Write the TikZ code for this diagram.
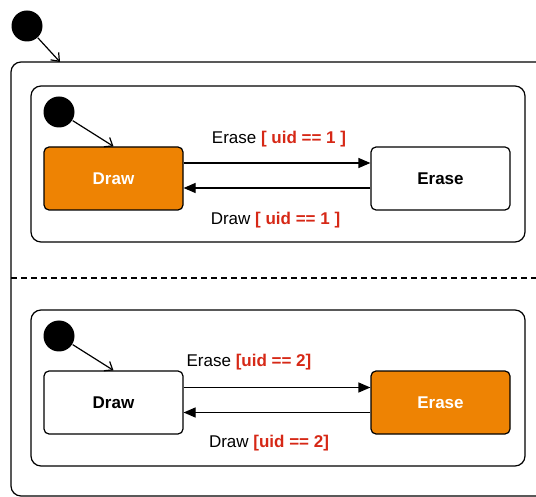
\documentclass[tikz,border=0pt]{standalone}
\usepackage{fontspec}
\setmainfont{Liberation Sans}
\usetikzlibrary{arrows.meta, positioning}
\definecolor{drawOrange}{RGB}{238,131,3}
\definecolor{guardRed}{RGB}{214,40,22}

\begin{document}
\begin{tikzpicture}[x=1pt, y=-1pt, line width=1.2pt,
      st/.style={draw, rounded corners=5pt, minimum width=139pt,
                 minimum height=63pt, font=\fontsize{17}{20}\selectfont\bfseries},
      act/.style={st, fill=drawOrange, text=white},
      region/.style={draw, rounded corners=10pt, minimum width=494pt,
                     minimum height=156pt},
      init/.style={circle, fill=black, minimum size=31pt, inner sep=0pt},
      tr/.style={-{Triangle[length=12pt, width=10pt]}},
      initarr/.style={-{Straight Barb[length=7pt, width=11pt]}},
      lbl/.style={font=\fontsize{17}{20}\selectfont}]

    \clip (0,0) rectangle (536,497);

    % ---- Layout ----
    \def\rowA{178.5}   % first region state row
    \def\rowB{402.5}   % second region state row
    \def\xL{113.5}     % Draw x
    \def\xR{440.5}     % Erase x

    % ---- Outer composite state ----
    \node[draw, rounded corners=10pt, minimum width=550pt, minimum height=434pt]
          (outer) at (286, 279) {};
    \node[init] (start) at (27, 26) {};
    \coordinate (entry) at (60, 62);
    \draw[initarr] (start) -- (entry);

    % concurrent region divider
    \coordinate (sepL) at (11, 278);
    \coordinate (sepR) at (561, 278);
    \draw[dashed, dash pattern=on 6pt off 4pt] (sepL) -- (sepR);

    % ---- Region 1 ----
    \node[region] (reg1) at (278, 164) {};
    \node[init] (init1) at (59, 112) {};
    \node[act] (draw1)  at (\xL, \rowA) {Draw};
    \node[st]  (erase1) at (\xR, \rowA) {Erase};
    \draw[initarr] (init1) -- (draw1.north);
    \draw[tr] ([yshift=15.5pt]draw1.east) -- ([yshift=15.5pt]erase1.west);
    \draw[tr] ([yshift=-9.5pt]erase1.west) -- ([yshift=-9.5pt]draw1.east);
    \node[lbl] (lblE1) at (279, 139) {Erase {\color{guardRed}\bfseries[ uid == 1 ]}};
    \node[lbl] (lblD1) at (275.5, 220) {Draw {\color{guardRed}\bfseries[ uid == 1 ]}};

    % ---- Region 2 ----
    \node[region] (reg2) at (278, 388) {};
    \node[init] (init2) at (59, 336) {};
    \node[st]  (draw2)  at (\xL, \rowB) {Draw};
    \node[act] (erase2) at (\xR, \rowB) {Erase};
    \draw[initarr] (init2) -- (draw2.north);
    \draw[tr] ([yshift=15pt]draw2.east) -- ([yshift=15pt]erase2.west);
    \draw[tr] ([yshift=-10pt]erase2.west) -- ([yshift=-10pt]draw2.east);
    \node[lbl] (lblE2) at (249, 362) {Erase {\color{guardRed}\bfseries[uid == 2]}};
    \node[lbl] (lblD2) at (269, 443) {Draw {\color{guardRed}\bfseries[uid == 2]}};

\end{tikzpicture}
\end{document}
